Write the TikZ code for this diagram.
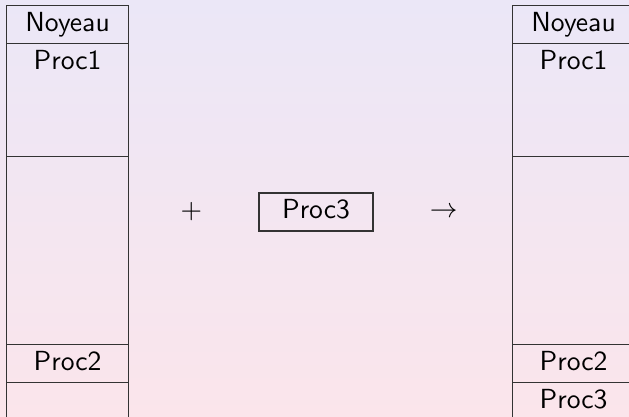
\documentclass[tikz,border=0pt]{standalone}
\usepackage{tikz}
\usetikzlibrary{matrix,positioning}

\definecolor{fondhaut}{RGB}{235,231,247}
\definecolor{fondbas}{RGB}{251,229,235}

\begin{document}
\begin{tikzpicture}[
x=0.362pt,
y=-0.362pt,
slot/.style={
  draw=black!80,
  minimum width=44.2pt,
  minimum height=13.76pt,
  inner xsep=0pt,
  inner ysep=2.44pt,
  outer sep=0pt,
  text height=6.94pt,
  text depth=1.94pt,
  font=\sffamily
  },
mem/.style={
  matrix of nodes,
  nodes={slot},
  nodes in empty cells,
  row sep=-\pgflinewidth,
  inner sep=0pt,
  outer sep=0pt,
  anchor=north west
  }
]
\useasboundingbox (0,0) rectangle (629,417);
\shade[top color=fondhaut, bottom color=fondbas] (0,0) rectangle (629,417);

% memoire avant
\matrix[mem] (avant) at (6,5)
{
Noyeau \\
|[minimum height=40.9pt, text depth=29.08pt]| Proc1 \\
|[minimum height=68.06pt]| \\
Proc2 \\
|[minimum height=21.72pt]| \\
};

% memoire apres
\matrix[mem] (apres) at (512,5)
{
Noyeau \\
|[minimum height=40.9pt, text depth=29.08pt]| Proc1 \\
|[minimum height=68.06pt]| \\
Proc2 \\
|[minimum height=21.72pt, text depth=9.9pt]| Proc3 \\
};

\node[slot, minimum width=41.3pt, inner xsep=4pt] (nouveau) at (316,212) {Proc3};
\node[left=17pt of nouveau] (plus) {$+$};
\node[right=17pt of nouveau] (donne) {$\rightarrow$};

\end{tikzpicture}
\end{document}
